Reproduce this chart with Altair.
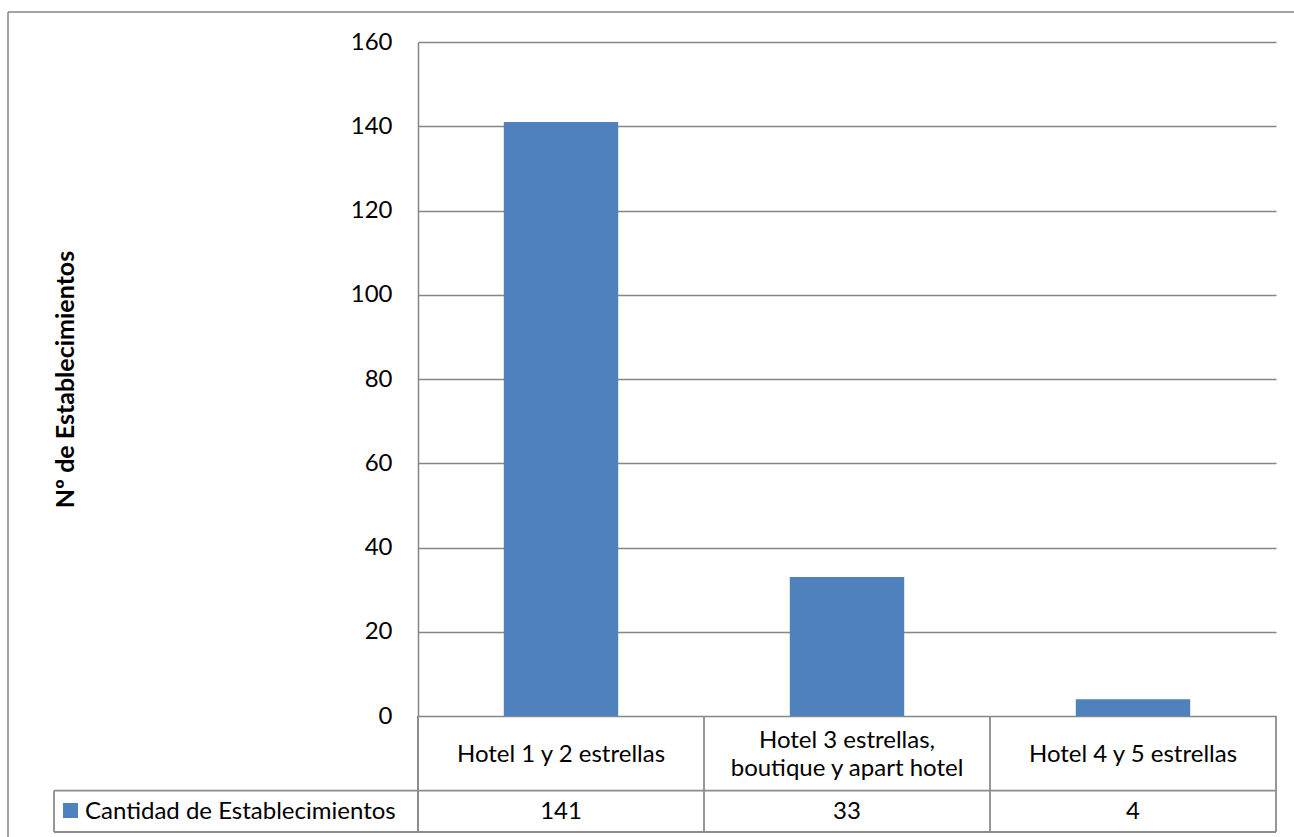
import altair as alt
import pandas as pd

categories = ["Hotel 1 y 2 estrellas", "Hotel 3 estrellas,\nboutique y apart hotel", "Hotel 4 y 5 estrellas"]
values = [141, 33, 4]
series_name = "Cantidad de Establecimientos"
y_ticks = [0, 20, 40, 60, 80, 100, 120, 140, 160]
y_title = "Nº de Establecimientos"

df = pd.DataFrame({"cat": categories, "value": values, "series": [series_name] * len(values)})
legend_df = pd.DataFrame({"series": [series_name]})

W, H = 858, 674
FONT = "Lato"
FS = 24
GRID = "#868686"
BAR = "#4F81BD"
LINE = "#8c8c8c"

xscale = alt.Scale(domain=categories, paddingInner=0, paddingOuter=0)

base = alt.Chart(df)

bars = base.mark_bar(width={"band": 0.4}, color=BAR).encode(
    x=alt.X("cat:N", scale=xscale, sort=categories, title=None, axis=None),
    y=alt.Y("value:Q", scale=alt.Scale(domain=[0, 160], nice=False, zero=True),
            title=y_title,
            axis=alt.Axis(values=y_ticks, grid=True, gridColor=GRID, gridWidth=1.5,
                          domain=True, domainColor=GRID, domainWidth=1.5,
                          ticks=False, labelPadding=26, labelFont=FONT, labelFontSize=FS,
                          labelColor="black", titleFont=FONT, titleFontSize=25,
                          titleFontWeight="bold", titleColor="black",
                          titleX=-353, titleY=H / 2, titleAngle=-90,
                          titleAlign="center", titleBaseline="middle")),
)

# header row: category labels (single-line and two-line)
hdr_single = base.transform_filter("indexof(datum.cat, '\\n') < 0").mark_text(
    font=FONT, fontSize=FS, color="black", baseline="middle").encode(
    x=alt.X("cat:N", scale=xscale, sort=categories),
    y=alt.value(713), text="cat:N")
hdr_multi = base.transform_filter("indexof(datum.cat, '\\n') >= 0").mark_text(
    font=FONT, fontSize=FS, color="black", baseline="middle",
    lineBreak="\n", lineHeight=28).encode(
    x=alt.X("cat:N", scale=xscale, sort=categories),
    y=alt.value(699), text="cat:N")

# table grid lines
vlines = base.mark_rule(color=LINE, strokeWidth=1.8).encode(
    x=alt.X("cat:N", scale=xscale, sort=categories, bandPosition=0),
    y=alt.value(H), y2=alt.value(790),
)
def rule(x, x2, y, y2, color=LINE, w=1.8):
    return alt.Chart(legend_df).mark_rule(color=color, strokeWidth=w).encode(
        x=alt.value(x), x2=alt.value(x2), y=alt.value(y), y2=alt.value(y2))

r_right = rule(W, W, H, 790)
r_left_axis = rule(0, 0, H, 790)
r_row = rule(-364, W, 748.6, 748.6)
r_bottom = rule(-364, W, 790, 790)
r_leg_left = rule(-364, -364, 748.6, 790)
border_left = rule(-410, -410, -30, 800, GRID, 1.5)
border_top = rule(-410, 880, -30, -30, GRID, 1.5)

values_text = base.mark_text(font=FONT, fontSize=FS, color="black", baseline="middle").encode(
    x=alt.X("cat:N", scale=xscale, sort=categories),
    y=alt.value(770),
    text="value:Q",
)

legend_sq = alt.Chart(legend_df).mark_square(size=225, color=BAR, opacity=1).encode(
    x=alt.value(-347.5), y=alt.value(768.5))
legend_txt = alt.Chart(legend_df).mark_text(font=FONT, fontSize=FS, color="black",
                                            align="left", baseline="middle").encode(
    x=alt.value(-333), y=alt.value(770), text="series:N")

chart = alt.layer(
    bars, hdr_single, hdr_multi, vlines, r_right, r_left_axis, r_row, r_bottom, r_leg_left,
    border_left, border_top, values_text, legend_sq, legend_txt,
).properties(
    width=W, height=H,
    autosize=alt.AutoSizeParams(type="none"),
    padding={"left": 418, "top": 42, "right": 18, "bottom": 121},
    background="white",
).configure_view(stroke=None)

chart.save("out.html", embed_options={"renderer": "svg", "actions": False})
